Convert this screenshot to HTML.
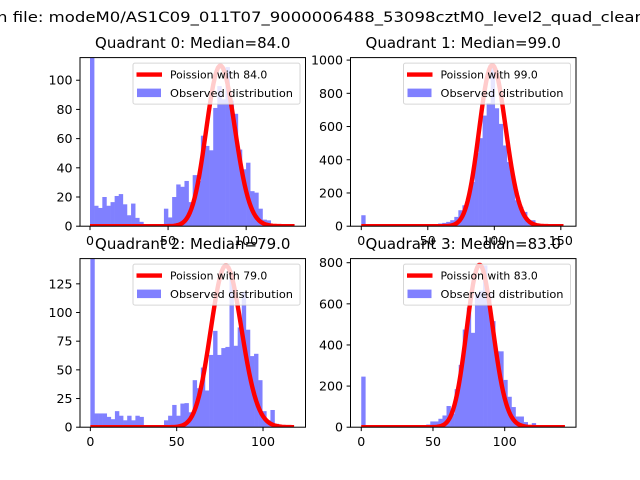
<!DOCTYPE html>
<html><head><meta charset="utf-8"><style>
html,body{margin:0;padding:0;background:#fff;}
svg{display:block;font-family:"DejaVu Sans","Liberation Sans",sans-serif;}
</style></head><body>
<svg id="fig" width="640" height="480" viewBox="0 0 640 480" xmlns="http://www.w3.org/2000/svg">
<rect width="640" height="480" fill="#fff"/>
<text x="-3" y="22" font-size="13.8" textLength="648" lengthAdjust="spacingAndGlyphs">n file: modeM0/AS1C09_011T07_9000006488_53098cztM0_level2_quad_clean</text>
</svg>
<script>
// ---- data ----
const quadrantNames = ["Quadrant 0","Quadrant 1","Quadrant 2","Quadrant 3"];
const medians = [84.0, 99.0, 79.0, 83.0];
const binWidths = [2.63, 3.04, 2.37, 2.83];
const q0Counts = [140,14,12.5,20,14,16.5,20.7,22,15,7.5,15.5,5.7,3,1,0,1,1.5,0,12,6,20,28.6,27,31,16.5,35,31,62,55,52,81,96,87,109,86,77,52.5,39,43.5,24,23,12,4.5,4,1,0,1,0,0,0];
const q1Counts = [66,0,0,0,0,0,0,0,0,0,0,0,0,0,0,0,0,4,12,16,20,26,36,56,96,126,166,266,440,530,666,742,960,710,616,486,386,300,156,116,86,36,36,16,6,4,2,0,0,0];
const q2Counts = [160,12,12,12,9,7,14,10,6,10,6,10,9,0,0,0,0,0,6,10,19.4,10,20.6,21,13,41,34,52,32,63,84,63,69,70,131,71,87,118,85,62,64,41,14,6,15,3,0,0,0,0];
const q3Counts = [246,0,0,0,0,0,0,0,0,0,0,0,0,0,0,0,13,28,28,41,57,103,66,185,303,475,582,459,648,664,787,648,516,369,369,230,148,98,52,52,25,11,20,5,0,0,0,0,0,0];
const poissonAmps = [2528, 24193, 3141, 18040];
const curveEnds = [131, 152, 118, 142];
const xLims = [[-6.4,138],[-8.1,161.4],[-6,124.6],[-7.5,149.7]];
const yLims = [[0,115.5],[0,1015],[0,147],[0,820]];
const xTicks = [[0,50,100],[0,50,100,150],[0,50,100],[0,50,100]];
const yTicks = [[0,20,40,60,80,100],[0,200,400,600,800,1000],[0,25,50,75,100,125],[0,200,400,600,800]];
// ---- drawing ----
const allCounts = [q0Counts,q1Counts,q2Counts,q3Counts];
const NS = "http://www.w3.org/2000/svg";
const svg = document.getElementById("fig");
function mk(tag, attrs, parent){const e=document.createElementNS(NS,tag);for(const k in attrs)e.setAttribute(k,attrs[k]);(parent||svg).appendChild(e);return e;}
const rects = [[80,57.6,225.5,168.6],[350.5,57.6,225.5,168.6],[80,258.6,225.5,168.6],[350.5,258.6,225.5,168.6]];
function poisson(k, lam){let lp=-lam+k*Math.log(lam);for(let i=2;i<=k;i++)lp-=Math.log(i);return Math.exp(lp);}
for(let q=0;q<4;q++){
  const [L,T,W,H]=rects[q];
  const [x0,x1]=xLims[q],[y0,y1]=yLims[q];
  const sx=v=>L+(v-x0)/(x1-x0)*W;
  const sy=v=>T+H-(v-y0)/(y1-y0)*H;
  const g=mk("g",{});
  
  
  const cid="clip"+q;
  const cp=mk("clipPath",{id:cid},g);mk("rect",{x:L,y:T,width:W,height:H},cp);
  const plot=mk("g",{"clip-path":"url(#"+cid+")"},g);
  const counts=allCounts[q],bw=binWidths[q];
  counts.forEach((c,i)=>{
    if(c<=0)return;
    const r=mk("rect",{x:sx(i*bw),y:sy(c),width:sx((i+1)*bw)-sx(i*bw)+0.3,height:sy(0)-sy(c),fill:"#8080ff"},plot);
    
    
  });
  let d="";
  for(let k=0;k<=curveEnds[q];k++){d+=(k?"L":"M")+sx(k).toFixed(2)+","+sy(poissonAmps[q]*poisson(k,medians[q])).toFixed(2);}
  const p=mk("path",{d:d,fill:"none",stroke:"#ff0000","stroke-width":4.4,"stroke-linejoin":"round"},plot);
  
  
  const fr=mk("rect",{x:L,y:T,width:W,height:H,fill:"none",stroke:"#000","stroke-width":1},g);
  
  
  xTicks[q].forEach(t=>{
    const x=sx(t);
    mk("line",{x1:x,x2:x,y1:T+H,y2:T+H+3.9,stroke:"#000","stroke-width":1},g);
    const tx=mk("text",{x:x,y:T+H+19,"font-size":12.6,"text-anchor":"middle"},g);tx.textContent=t;
    
    
  });
  yTicks[q].forEach(t=>{
    const y=sy(t);
    mk("line",{x1:L-3.9,x2:L,y1:y,y2:y,stroke:"#000","stroke-width":1},g);
    const tx=mk("text",{x:L-7.5,y:y+4.5,"font-size":12.6,"text-anchor":"end"},g);tx.textContent=t;
    
    
  });
  const ti=mk("text",{x:L+W/2,y:T-9.5,"font-size":15,"text-anchor":"middle"},g);
  ti.textContent=quadrantNames[q]+": Median="+medians[q].toFixed(1);
  
  
  const lg=mk("g",{},g);
  
  
  const lx=L+W-172.5, ly=T+5.5;
  mk("rect",{x:lx,y:ly,width:167,height:41,rx:2,fill:"#fff","fill-opacity":0.8,stroke:"#ccc","stroke-opacity":0.8,"stroke-width":1},lg);
  mk("line",{x1:lx+3.5,x2:lx+29,y1:ly+11.5,y2:ly+11.5,stroke:"#ff0000","stroke-width":4.4},lg);
  const t1=mk("text",{x:lx+37,y:ly+15.5,"font-size":10.8},lg);t1.textContent="Poission with "+medians[q].toFixed(1);
  
  
  mk("rect",{x:lx+4,y:ly+25.5,width:24,height:8.5,fill:"#8080ff"},lg);
  const t2=mk("text",{x:lx+37,y:ly+34,"font-size":10.8,"textLength":123,"lengthAdjust":"spacingAndGlyphs"},lg);t2.textContent="Observed distribution";
  
  
}
</script>
</body></html>
